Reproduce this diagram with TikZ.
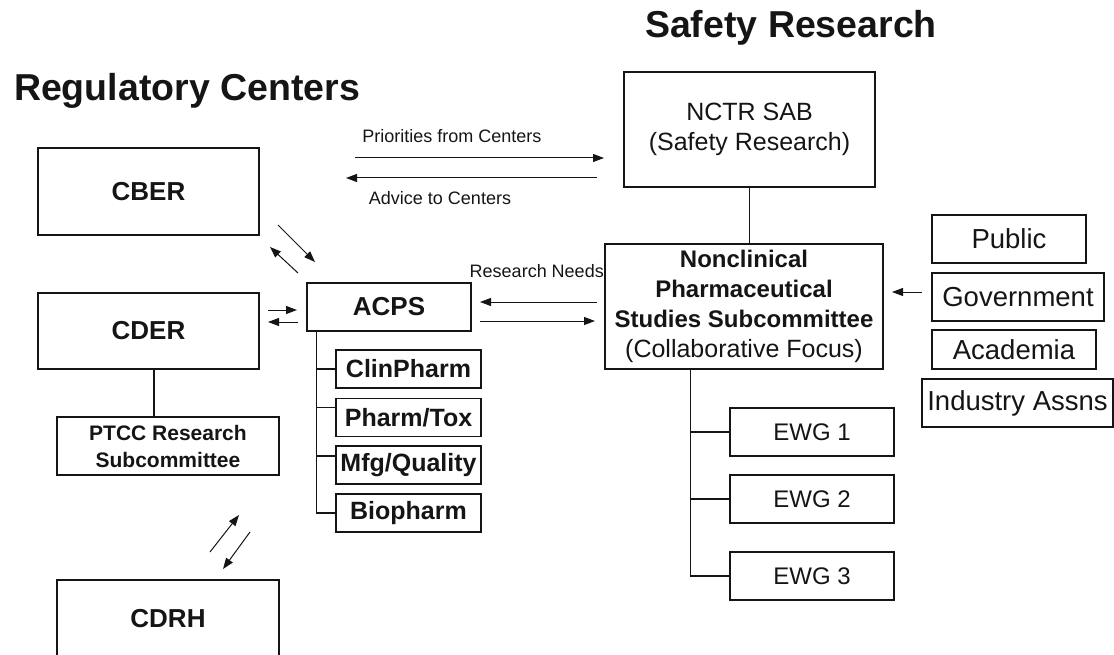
\documentclass[tikz,border=0pt]{standalone}
\usepackage{fontspec}
\setmainfont{Liberation Sans}
\usetikzlibrary{arrows.meta}
\definecolor{chartink}{HTML}{151515}
\newcommand{\headfont}{\fontsize{37.5}{40}\selectfont\bfseries}
\newcommand{\bigbold}{\fontsize{26}{30}\selectfont\bfseries}
\newcommand{\midbold}{\fontsize{25}{30}\selectfont\bfseries}
\newcommand{\smallbold}{\fontsize{21}{27}\selectfont\bfseries}
\newcommand{\boxfont}{\fontsize{25}{30}\selectfont}
\newcommand{\sidefont}{\fontsize{27.5}{30}\selectfont}
\newcommand{\notefont}{\fontsize{18}{21}\selectfont}
\newcommand{\nclline}[1]{{\fontsize{24}{30}\selectfont\bfseries #1}}

\begin{document}
\begin{tikzpicture}[
  x=1pt,
  y=-1pt,
  every node/.style={text=chartink, inner sep=0pt},
  unit/.style={draw=chartink, line width=1.2pt, align=center, font=\boxfont},
  sub/.style={unit, font=\midbold, minimum width=145, minimum height=38},
  ewg/.style={unit, font=\fontsize{24}{30}\selectfont, minimum width=164, minimum height=48},
  side/.style={unit, font=\sidefont, minimum height=48},
  flow/.style={draw=chartink, line width=1pt, -{Triangle[length=11pt,width=8pt]}},
  tie/.style={draw=chartink, line width=1.2pt}
]
  \useasboundingbox (0,0) rectangle (1114,655);
  \clip (0,0) rectangle (1114,655);

  \node[font=\headfont, anchor=base] (regtitle) at (187,101) {Regulatory Centers};
  \node[font=\headfont, anchor=base] (saftitle) at (791,38) {Safety Research};

  \node[unit, font=\bigbold, minimum width=221, minimum height=87] (cber) at (148.5,191.5) {CBER};
  \node[unit, font=\bigbold, minimum width=221, minimum height=76] (cder) at (148.5,331) {CDER};
  \node[unit, font=\smallbold, minimum width=222, minimum height=58] (ptcc) at (168,446) {PTCC Research\\Subcommittee};
  \node[unit, font=\bigbold, minimum width=222, minimum height=78] (cdrh) at (168,619) {CDRH};

  \node[unit, font=\bigbold, minimum width=164, minimum height=48] (acps) at (389,307) {ACPS};
  \node[sub] (clin) at (408.5,369) {ClinPharm};
  \node[sub] (phtox) at (408.5,417.5) {Pharm/Tox};
  \node[sub] (mfg) at (408.5,465) {Mfg/Quality};
  \node[sub] (bio) at (408.5,513) {Biopharm};

  \node[unit, minimum width=251, minimum height=115] (nctr) at (749.5,129.5) {NCTR SAB\\(Safety Research)};
  \node[unit, minimum width=278, minimum height=125] (ncl) at (744,306.5)
    {\nclline{Nonclinical}\\\nclline{Pharmaceutical}\\\nclline{Studies Subcommittee}\\(Collaborative Focus)};
  \node[ewg] (ewga) at (812,432) {EWG 1};
  \node[ewg] (ewgb) at (812,499) {EWG 2};
  \node[ewg] (ewgc) at (812,576) {EWG 3};

  \node[side, minimum width=154] (public) at (1009,239) {Public};
  \node[side, minimum width=172] (gov) at (1018,297) {Government};
  \node[side, minimum width=164, minimum height=39] (acad) at (1014,349.5) {Academia};
  \node[side, minimum width=191] (industry) at (1017.5,403) {Industry Assns};

  \draw[tie] ([xshift=5.5]cder.south) -- ([xshift=5.5]cder.south |- ptcc.north);
  \draw[tie] (nctr.south) -- (nctr.south |- ncl.north);
  \foreach \n/\dy in {clin/0, phtox/10, mfg/9, bio/0}
    \draw[tie] ([xshift=10]acps.south west) |- ([yshift=\dy]\n.west);
  \foreach \n in {ewga, ewgb, ewgc}
    \draw[tie] ([xshift=86]ncl.south west) |- (\n.west);

  \coordinate (prioA) at (355,158);
  \coordinate (prioB) at (604,158);
  \coordinate (advA) at (597,178);
  \coordinate (advB) at (346,178);
  \draw[flow] (prioA) -- (prioB);
  \draw[flow] (advA) -- (advB);
  \node[font=\notefont, anchor=base] (priolabel) at (452,143) {Priorities from Centers};
  \node[font=\notefont, anchor=base] (advlabel) at (440,205) {Advice to Centers};

  \coordinate (needA) at (597,302);
  \coordinate (needB) at (480,302);
  \coordinate (needC) at (480,321);
  \coordinate (needD) at (595,321);
  \draw[flow] (needA) -- (needB);
  \draw[flow] (needC) -- (needD);
  \node[font=\notefont, anchor=base east] (needlabel) at (604,277) {Research Needs};

  \coordinate (govA) at (922,292);
  \coordinate (govB) at (892,292);
  \draw[flow] (govA) -- (govB);

  \coordinate (cberA) at (278,225);
  \coordinate (cberB) at (315,262);
  \coordinate (cberC) at (298,273);
  \coordinate (cberD) at (270,247);
  \draw[flow] (cberA) -- (cberB);
  \draw[flow] (cberC) -- (cberD);

  \coordinate (cderA) at (268,310);
  \coordinate (cderB) at (297,310);
  \coordinate (cderC) at (298,322);
  \coordinate (cderD) at (268,322);
  \draw[flow] (cderA) -- (cderB);
  \draw[flow] (cderC) -- (cderD);

  \coordinate (cdrhA) at (210,552);
  \coordinate (cdrhB) at (239,515);
  \coordinate (cdrhC) at (250,532);
  \coordinate (cdrhD) at (223,569);
  \draw[flow] (cdrhA) -- (cdrhB);
  \draw[flow] (cdrhC) -- (cdrhD);
\end{tikzpicture}
\end{document}
